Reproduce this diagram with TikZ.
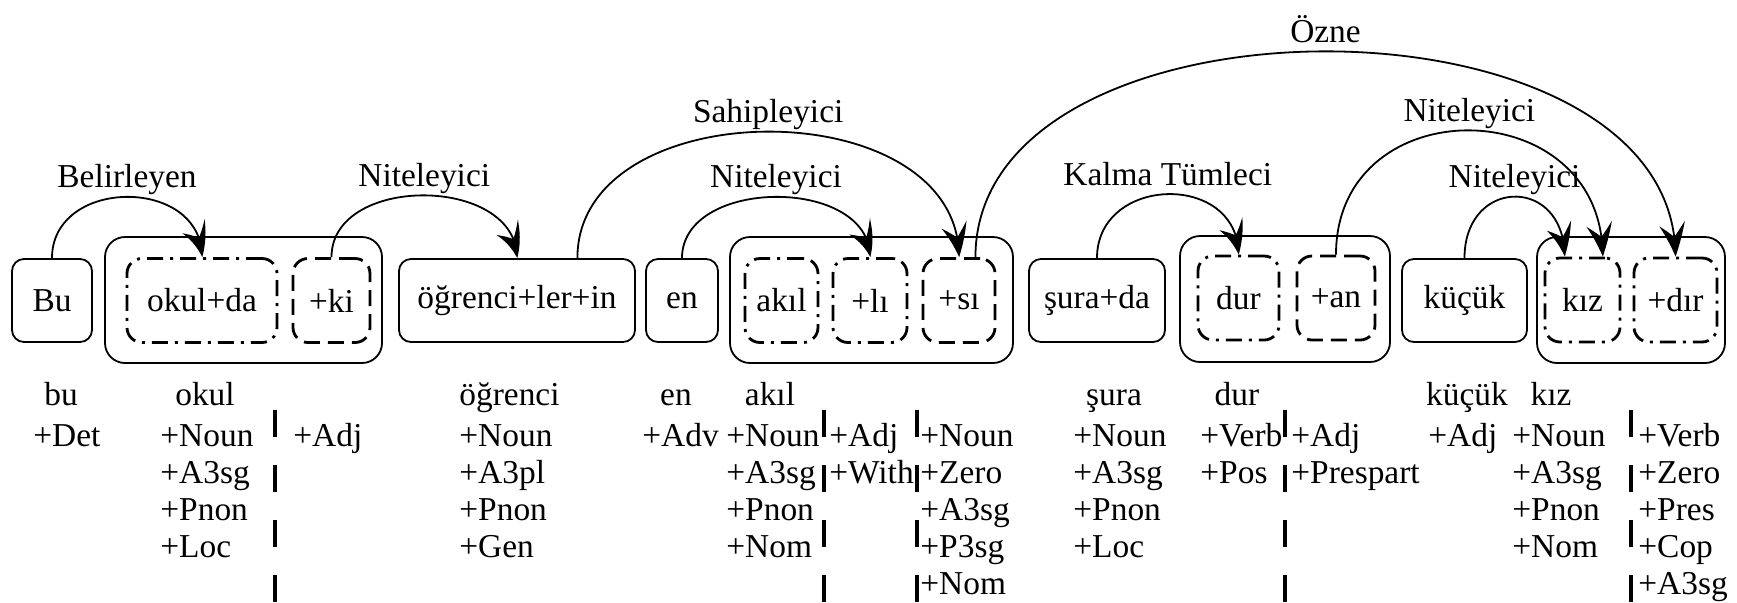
\documentclass[tikz,border=0pt]{standalone}
\usepackage{fontspec}
\newfontfamily\timesface{Liberation Serif}
\usetikzlibrary{arrows.meta,calc,bending}
\tikzset{
  every node/.style={font=\timesface\fontsize{16.7}{20}\selectfont},
  plainbox/.style={draw, line width=0.9pt, rounded corners=6pt, inner sep=0pt, minimum height=41.5pt},
  outerbox/.style={draw, line width=0.9pt, rounded corners=10pt, inner sep=0pt, minimum height=63pt},
  dashdotbox/.style={draw, line width=1.4pt, rounded corners=7.5pt, inner sep=0pt, minimum height=42pt, dash pattern=on 8pt off 3.5pt on 1.5pt off 3.5pt},
  dashbox/.style={draw, line width=1.4pt, rounded corners=7.5pt, inner sep=0pt, minimum height=42pt, dash pattern=on 8pt off 4pt},
  dep/.style={line width=0.9pt, -{Stealth[length=17pt,width=13pt,inset=7pt,bend]}},
  lbl/.style={anchor=base, yshift=4.5pt, inner sep=0pt},
  tag/.style={inner sep=0pt},
  sepbar/.style={line width=1.9pt, dash pattern=on 13.5pt off 14pt},
}
\newcommand\tagcol[3]{%
  \foreach \t [count=\i] in {#3}
    \node[tag, anchor=base west] (#1-\i) at (#2, {-446-37*(\i-1)}) {\t};}
\begin{document}
\begin{tikzpicture}[x=0.5pt,y=0.5pt]
\useasboundingbox (0,0) rectangle (1737,-602);
% group boxes
\node[outerbox, minimum width=138.5pt] (gA) at (243.5,-300) {};
\node[outerbox, minimum width=141.5pt] (gB) at (871.5,-300) {};
\node[outerbox, minimum width=105pt] (gC) at (1285,-299) {};
\node[outerbox, minimum width=94pt] (gD) at (1631,-300) {};
% word boxes
\node[plainbox, minimum width=40pt] (bu) at (52,-300.5) {Bu};
\node[dashdotbox, minimum width=75pt] (okulda) at (202,-300.5) {okul+da};
\node[dashbox, minimum width=38.5pt] (ki) at (331.5,-300.5) {+ki};
\node[plainbox, minimum width=118pt] (ogr) at (517,-300.5) {öğrenci+ler+in};
\node[plainbox, minimum width=36pt] (en) at (682,-300.5) {en};
\node[dashdotbox, minimum width=36.5pt] (akil) at (781.5,-300.5) {akıl};
\node[dashdotbox, minimum width=37pt] (li) at (870,-300.5) {+lı};
\node[dashbox, minimum width=36pt] (si) at (959,-300.5) {+sı};
\node[plainbox, minimum width=68pt] (sura) at (1097,-300.5) {şura+da};
\node[dashdotbox, minimum width=40.5pt] (dur) at (1238.5,-298) {dur};
\node[dashbox, minimum width=39pt] (an) at (1336,-298) {+an};
\node[plainbox, minimum width=62.5pt] (kucuk) at (1464.5,-300.5) {küçük};
\node[dashdotbox, minimum width=37.5pt] (kiz) at (1582.5,-300) {kız};
\node[dashdotbox, minimum width=41.5pt] (dir) at (1675.5,-300) {+dır};
% off-centre arc ends
\coordinate (ogrR) at ($(ogr.north west)!0.754!(ogr.north east)$);
\coordinate (siR) at ($(si.north west)!0.72!(si.north east)$);
\coordinate (kizR) at ($(kiz.north west)!0.76!(kiz.north east)$);
\coordinate (kizL) at ($(kiz.north west)!0.27!(kiz.north east)$);
% dependency arcs
\draw[dep] (bu.north) .. controls +(0,81) and +(0,81) .. (okulda.north) node[lbl, midway] (l1) {Belirleyen};
\draw[dep] (ki.north) .. controls +(0,83) and +(0,83) .. (ogr.north) node[lbl, midway] (l2) {Niteleyici};
\draw[dep] (ogrR) .. controls +(0,168) and +(0,168) .. (si.north) node[lbl, midway] (l3) {Sahipleyici};
\draw[dep] (en.north) .. controls +(0,81) and +(0,81) .. (li.north) node[lbl, midway] (l4) {Niteleyici};
\draw[dep] (siR) .. controls +(0,274) and +(0,274) .. (dir.north) node[lbl, midway] (l5) {Özne};
\draw[dep] (sura.north) .. controls +(0,83) and +(0,83) .. (dur.north) node[lbl, midway] (l6) {Kalma Tümleci};
\draw[dep] (an.north) .. controls +(0,167) and +(0,167) .. (kizR) node[lbl, midway] (l7) {Niteleyici};
\draw[dep] (kucuk.north) .. controls +(0,81) and +(0,81) .. (kizL) node[lbl, midway] (l8) {Niteleyici};
% analyses: roots
\node[tag, anchor=base] (r1) at (61,-405) {bu};
\node[tag, anchor=base] (r2) at (205,-405) {okul};
\node[tag, anchor=base west] (r4) at (459,-405) {öğrenci};
\node[tag, anchor=base] (r5) at (676,-405) {en};
\node[tag, anchor=base] (r6) at (770,-405) {akıl};
\node[tag, anchor=base] (r9) at (1114,-405) {şura};
\node[tag, anchor=base] (r10) at (1237,-405) {dur};
\node[tag, anchor=base] (r12) at (1467,-405) {küçük};
\node[tag, anchor=base] (r13) at (1551,-405) {kız};
% analyses: tags
\tagcol{c1}{33}{+Det}
\tagcol{c2}{160}{+Noun,+A3sg,+Pnon,+Loc}
\tagcol{c3}{293}{+Adj}
\tagcol{c4}{459}{+Noun,+A3pl,+Pnon,+Gen}
\tagcol{c5}{642}{+Adv}
\tagcol{c6}{726}{+Noun,+A3sg,+Pnon,+Nom}
\tagcol{c7}{829}{+Adj,+With}
\tagcol{c8}{920}{+Noun,+Zero,+A3sg,+P3sg,+Nom}
\tagcol{c9}{1073}{+Noun,+A3sg,+Pnon,+Loc}
\tagcol{c10}{1200}{+Verb,+Pos}
\tagcol{c11}{1291}{+Adj,+Prespart}
\tagcol{c12}{1428}{+Adj}
\tagcol{c13}{1512}{+Noun,+A3sg,+Pnon,+Nom}
\tagcol{c14}{1638}{+Verb,+Zero,+Pres,+Cop,+A3sg}
% morpheme separators
\foreach \bx in {275,824,917,1285,1631}
  \draw[sepbar] (\bx,-410) -- (\bx,-602);
\end{tikzpicture}
\end{document}
